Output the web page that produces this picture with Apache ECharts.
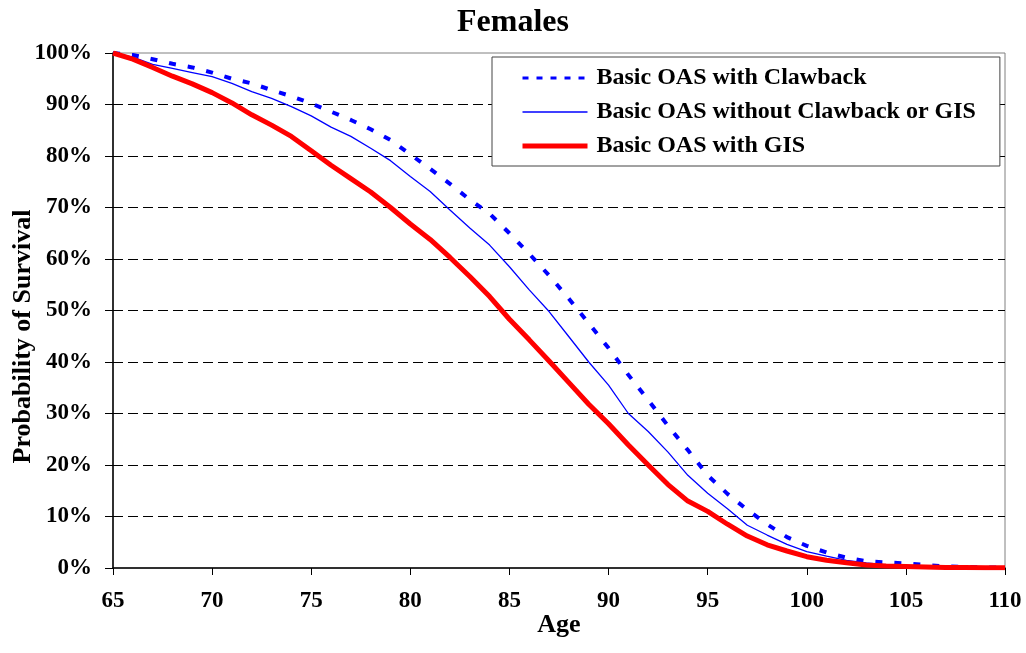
<!DOCTYPE html>
<html>
<head>
<meta charset="utf-8">
<script src="https://cdn.jsdelivr.net/npm/echarts@6/dist/echarts.min.js"></script>
<style>
  html, body { margin: 0; padding: 0; background: #fff; }
  #chart { width: 1026px; height: 653px; }
</style>
</head>
<body>
<div id="chart"></div>
<script>
// ages 65..110
const ages = [];
for (let a = 65; a <= 110; a++) ages.push(a);

const withClawback = [100, 99.6, 98.8, 97.9, 97.2, 96.2, 95, 94.1, 92.8, 91.6,
  90.2, 88.6, 87, 85.2, 83.1, 80.3, 77.5, 74.6, 71.5, 68.8,
  65, 61, 56.8, 52.3, 47.5, 42.7, 37.5, 32.6, 27.6, 22.9,
  18, 14.4, 11.3, 8.5, 6, 4.3, 3, 2, 1.3, 1.1,
  0.9, 0.6, 0.3, 0.2, 0.1, 0.1];

const withoutClawbackOrGis = [100, 99.2, 97.8, 97, 96.2, 95.4, 94.1, 92.5, 91.2, 89.6,
  87.8, 85.6, 83.8, 81.5, 79.1, 76, 73.1, 69.5, 66, 62.7,
  58.5, 54, 49.8, 44.9, 40, 35.5, 30, 26.5, 22.5, 18,
  14.5, 11.5, 8.3, 6.4, 4.6, 3.2, 2.3, 1.5, 1, 0.6,
  0.4, 0.3, 0.2, 0.1, 0.05, 0.03];

const withGis = [100, 98.8, 97.2, 95.5, 94, 92.3, 90.3, 88, 86, 83.8,
  81, 78.2, 75.6, 73, 70, 66.8, 63.8, 60.3, 56.6, 52.7,
  48.3, 44.3, 40.2, 36, 31.8, 28, 23.9, 20, 16.2, 13,
  11, 8.5, 6.2, 4.5, 3.3, 2.2, 1.5, 1, 0.6, 0.4,
  0.3, 0.2, 0.1, 0.1, 0.05, 0.05];

const seriesNames = [
  "Basic OAS with Clawback",
  "Basic OAS without Clawback or GIS",
  "Basic OAS with GIS",
];

function pairs(values) {
  return ages.map((a, i) => [a, values[i]]);
}

const font = "'Liberation Serif', 'Times New Roman', serif";
const chart = echarts.init(document.getElementById("chart"));

const option = {
  animation: false,
  title: {
    text: "Females",
    left: "center",
    top: 2,
    textStyle: { fontFamily: font, fontSize: 32, fontWeight: "bold", color: "#000" },
  },
  grid: {
    left: 113,
    right: 21,
    top: 53,
    bottom: 85,
    outerBoundsMode: "none",
    show: true,
    borderColor: "#808080",
    borderWidth: 1,
    backgroundColor: "#fff",
  },
  legend: {
    orient: "vertical",
    left: 492,
    top: 57,
    backgroundColor: "#fff",
    borderColor: "#444",
    borderWidth: 1,
    padding: [9, 24, 8, 28],
    itemWidth: 65,
    itemHeight: 14,
    itemGap: 10,
    itemStyle: { opacity: 0 },
    textStyle: {
      fontFamily: font, fontSize: 24, fontWeight: "bold", color: "#000",
      lineHeight: 24, padding: [0, 0, 0, 4],
    },
    data: [
      { name: seriesNames[0], lineStyle: { width: 3, type: [6, 8] } },
      { name: seriesNames[1], lineStyle: { width: 1.5 } },
      { name: seriesNames[2], lineStyle: { width: 5 } },
    ],
  },
  xAxis: {
    type: "value",
    min: 65,
    max: 110,
    interval: 5,
    name: "Age",
    nameLocation: "middle",
    nameGap: 44,
    nameMoveOverlap: false,
    nameTextStyle: { fontFamily: font, fontSize: 26, fontWeight: "bold", color: "#000" },
    axisLine: { lineStyle: { color: "#000", width: 1.5 } },
    axisTick: { show: true, length: 7, lineStyle: { color: "#000" } },
    axisLabel: { fontFamily: font, fontSize: 23, fontWeight: "bold", color: "#000", margin: 22 },
    splitLine: { show: false },
  },
  yAxis: {
    type: "value",
    min: 0,
    max: 100,
    interval: 10,
    name: "Probability of Survival",
    nameLocation: "middle",
    nameGap: 77,
    nameMoveOverlap: false,
    nameTextStyle: {
      fontFamily: font, fontSize: 26, fontWeight: "bold", color: "#000",
      padding: [0, 52, 0, 0],
    },
    axisLine: { show: true, lineStyle: { color: "#000", width: 1.5 } },
    axisTick: { show: true, length: 8, lineStyle: { color: "#000" } },
    axisLabel: {
      fontFamily: font, fontSize: 23, fontWeight: "bold", color: "#000", margin: 21,
      formatter: "{value}%",
    },
    splitLine: {
      show: true,
      showMinLine: false,
      showMaxLine: false,
      lineStyle: { color: "#000", type: [10, 5], width: 1 },
    },
  },
  series: [
    {
      name: seriesNames[0],
      type: "line",
      symbol: "none",
      data: pairs(withClawback),
      lineStyle: { color: "#0000ff", width: 4, type: [7, 12] },
      itemStyle: { color: "#0000ff" },
      z: 3,
    },
    {
      name: seriesNames[1],
      type: "line",
      symbol: "none",
      data: pairs(withoutClawbackOrGis),
      lineStyle: { color: "#0000ff", width: 1.3 },
      itemStyle: { color: "#0000ff" },
      z: 3,
    },
    {
      name: seriesNames[2],
      type: "line",
      symbol: "none",
      data: pairs(withGis),
      lineStyle: { color: "#ff0000", width: 5 },
      itemStyle: { color: "#ff0000" },
      z: 4,
    },
  ],
};

chart.setOption(option);
</script>
</body>
</html>
